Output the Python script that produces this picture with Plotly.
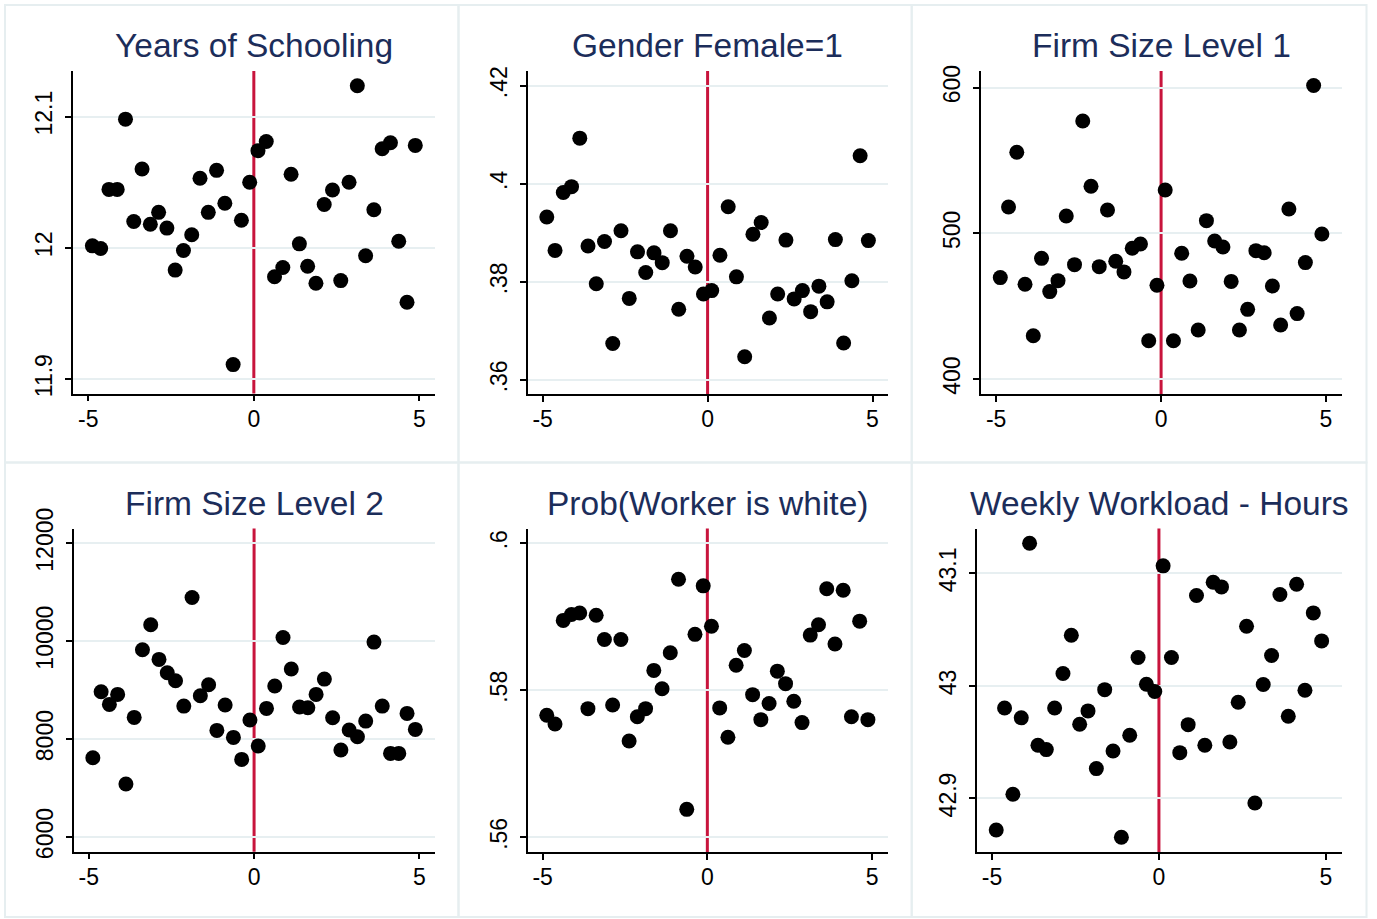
import plotly.graph_objects as go

# Bin centres of the running variable (distance to cutoff)
bins = [-4.875, -4.625, -4.375, -4.125, -3.875, -3.625, -3.375, -3.125, -2.875, -2.625,
        -2.375, -2.125, -1.875, -1.625, -1.375, -1.125, -0.875, -0.625, -0.375, -0.125,
        0.125, 0.375, 0.625, 0.875, 1.125, 1.375, 1.625, 1.875, 2.125, 2.375,
        2.625, 2.875, 3.125, 3.375, 3.625, 3.875, 4.125, 4.375, 4.625, 4.875]

schooling = [12.0015, 11.9995, 12.0445, 12.0445, 12.098, 12.020, 12.060, 12.018, 12.027, 12.015,
             11.983, 11.998, 12.010, 12.053, 12.027, 12.059, 12.034, 11.911, 12.021, 12.050,
             12.074, 12.081, 11.978, 11.985, 12.056, 12.003, 11.986, 11.973, 12.033, 12.044,
             11.975, 12.050, 12.1235, 11.994, 12.029, 12.0755, 12.080, 12.005, 11.9585, 12.078]

female = [0.3932, 0.3864, 0.3982, 0.3994, 0.4093, 0.3873, 0.3796, 0.3882, 0.3674, 0.3904,
          0.3766, 0.3861, 0.3819, 0.3859, 0.3839, 0.3904, 0.3744, 0.3852, 0.3830, 0.3775,
          0.3782, 0.3854, 0.3953, 0.3810, 0.3647, 0.3897, 0.3921, 0.3726, 0.3775, 0.3885,
          0.3765, 0.3782, 0.3739, 0.3791, 0.3759, 0.3886, 0.3675, 0.3802, 0.4057, 0.3884]

firm_size_1 = [469.6, 518.1, 555.6, 465.0, 429.7, 482.8, 460.0, 467.5, 511.9, 478.5,
               577.1, 532.3, 477.1, 516.0, 480.8, 473.5, 489.7, 492.7, 426.3, 464.3,
               529.7, 426.3, 486.3, 467.3, 433.6, 508.7, 494.7, 490.6, 467.0, 433.6,
               447.8, 488.1, 486.7, 463.8, 437.1, 516.7, 444.9, 479.9, 601.4, 499.5]

firm_size_2 = [7619, 8966, 8708, 8912, 7082, 8442, 9823, 10333, 9626, 9354,
               9190, 8673, 10891, 8884, 9109, 8177, 8694, 8034, 7585, 8388,
               7857, 8626, 9082, 10075, 9429, 8653, 8639, 8912, 9224, 8435,
               7776, 8184, 8048, 8367, 9980, 8673, 7707, 7707, 8524, 8197]

white = [0.5766, 0.5754, 0.5895, 0.5903, 0.5905, 0.5775, 0.5902, 0.5869, 0.5780, 0.5869,
         0.5731, 0.5764, 0.5775, 0.5827, 0.5802, 0.5851, 0.5951, 0.5638, 0.5876, 0.5942,
         0.5887, 0.5776, 0.5736, 0.5834, 0.5854, 0.5794, 0.5760, 0.5782, 0.5826, 0.5809,
         0.5785, 0.5756, 0.5875, 0.5889, 0.5938, 0.5863, 0.5936, 0.5764, 0.5894, 0.5760]

hours = [42.872, 42.9804, 42.9037, 42.9716, 43.1268, 42.9473, 42.9434, 42.9804, 43.0110, 43.0450,
         42.9659, 42.9778, 42.9265, 42.9967, 42.9422, 42.8655, 42.9561, 43.0252, 43.0015, 42.9950,
         43.1067, 43.0252, 42.9407, 42.9656, 43.0803, 42.9473, 43.0921, 43.0880, 42.9502, 42.9855,
         43.0530, 42.8960, 43.0012, 43.0270, 43.0812, 42.9730, 43.0904, 42.9961, 43.0649, 43.0400]

titles = ["Years of Schooling", "Gender Female=1", "Firm Size Level 1",
          "Firm Size Level 2", "Prob(Worker is white)", "Weekly Workload - Hours"]
series = [schooling, female, firm_size_1, firm_size_2, white, hours]

ytick_vals = [[11.9, 12.0, 12.1], [0.36, 0.38, 0.40, 0.42], [400, 500, 600],
              [6000, 8000, 10000, 12000], [0.56, 0.58, 0.60], [42.9, 43.0, 43.1]]
ytick_text = [["11.9", "12", "12.1"], [".36", ".38", ".4", ".42"], ["400", "500", "600"],
              ["6000", "8000", "10000", "12000"], [".56", ".58", ".6"], ["42.9", "43", "43.1"]]
x_ticks = [-5, 0, 5]

W, H = 1377, 919
# plot-area boxes in pixels: x0, x1, y_top, y_bottom
boxes = [(73, 435, 71, 393.5), (527.5, 888, 71, 394), (981, 1341.5, 71, 394),
         (73.5, 435, 528.5, 851.7), (527.5, 887.5, 528.5, 852), (976.7, 1341.5, 528.5, 852)]
y_ranges = [(11.889, 12.1347), (0.3571, 0.4230), (389.7, 611.4),
            (5700, 12299), (0.5580, 0.6020), (42.8524, 43.1399)]
x_range = (-5.46, 5.47)
# outer frame of each sub-graph, pixels: x0, x1, y0, y1
frames = [(5, 458.5, 5, 462.5), (458.5, 911.7, 5, 462.5), (911.7, 1366.5, 5, 462.5),
          (5, 458.5, 462.5, 917), (458.5, 911.7, 462.5, 917), (911.7, 1366.5, 462.5, 917)]
title_y = [46, 46, 46, 503, 503, 503]

FONT = "Liberation Sans, Arial, sans-serif"
TITLE_COLOR = "#1c2d5a"
GRID_COLOR = "#e7eff1"
LINE_RED = "#c8143c"

fig = go.Figure()
shapes = []
annotations = []

for i in range(6):
    sfx = "" if i == 0 else str(i + 1)
    x0, x1, yt, yb = boxes[i]
    xd = [x0 / W, x1 / W]
    yd = [1 - yb / H, 1 - yt / H]

    fig.add_trace(go.Scatter(
        x=bins, y=series[i], mode="markers",
        marker=dict(color="black", size=15, line=dict(width=0)),
        xaxis="x" + sfx, yaxis="y" + sfx, showlegend=False, hoverinfo="x+y",
    ))

    fig.layout["xaxis" + sfx] = dict(
        domain=xd, anchor="y" + sfx, range=list(x_range), automargin=False,
        tickvals=x_ticks, ticktext=[str(v) for v in x_ticks],
        showgrid=False, zeroline=False,
        showline=True, linecolor="black", linewidth=1.5,
        ticks="outside", ticklen=6, tickwidth=1.5, tickcolor="black",
        tickfont=dict(family=FONT, size=23, color="black"),
        ticklabelstandoff=-2, fixedrange=True,
    )
    fig.layout["yaxis" + sfx] = dict(
        domain=yd, anchor="x" + sfx, range=list(y_ranges[i]), automargin=False,
        tickvals=ytick_vals[i], ticktext=ytick_text[i], tickangle=-90,
        showgrid=True, gridcolor=GRID_COLOR, gridwidth=2, zeroline=False,
        showline=True, linecolor="black", linewidth=1.5,
        ticks="outside", ticklen=6, tickwidth=1.5, tickcolor="black",
        tickfont=dict(family=FONT, size=23, color="black"),
        ticklabelstandoff=4, fixedrange=True,
    )

    # cutoff line at zero
    shapes.append(dict(type="line", xref="x" + sfx, yref="y" + sfx + " domain",
                       x0=0, x1=0, y0=0, y1=1, layer="below",
                       line=dict(color=LINE_RED, width=3)))

    fx0, fx1, fy0, fy1 = frames[i]
    shapes.append(dict(type="rect", xref="paper", yref="paper",
                       x0=fx0 / W, x1=fx1 / W, y0=1 - fy1 / H, y1=1 - fy0 / H,
                       line=dict(color="#e6eef0", width=2), layer="below"))

    annotations.append(dict(text=titles[i], xref="paper", yref="paper",
                            x=(x0 + x1) / 2 / W, y=1 - title_y[i] / H,
                            xanchor="center", yanchor="middle", showarrow=False,
                            font=dict(family=FONT, size=33.5, color=TITLE_COLOR)))

fig.update_layout(
    width=W, height=H,
    margin=dict(l=0, r=0, t=0, b=0, pad=0, autoexpand=False),
    paper_bgcolor="white", plot_bgcolor="white",
    shapes=shapes, annotations=annotations,
)

fig.write_html("out.html")
